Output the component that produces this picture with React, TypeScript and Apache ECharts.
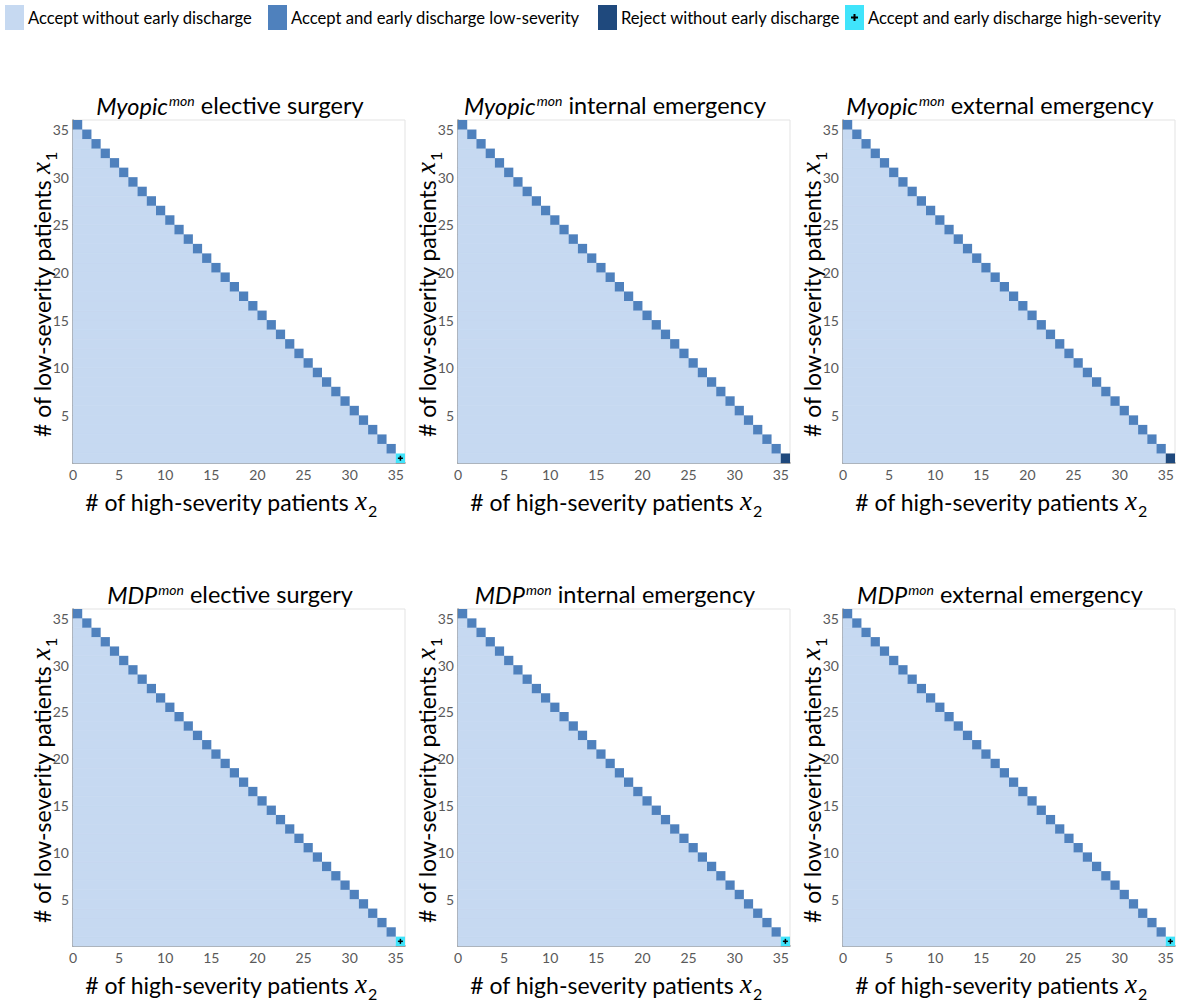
import { useEffect, useRef } from "react";
import * as echarts from "echarts";

const legendLabels = [
  "Accept without early discharge",
  "Accept and early discharge low-severity",
  "Reject without early discharge",
  "Accept and early discharge high-severity",
];
const decisionColors = ["#c6d9f1", "#4f81bd", "#1f497d", "#40e4fb"];

// rows: number of low-severity patients x1
const lowSeverityRows = [0, 1, 2, 3, 4, 5, 6, 7, 8, 9, 10, 11, 12, 13, 14, 15, 16, 17, 18, 19, 20, 21, 22, 23, 24, 25, 26, 27, 28, 29, 30, 31, 32, 33, 34, 35];
// for each row: number of high-severity patients x2 at which the ward is full
const fullWardX2 = [35, 34, 33, 32, 31, 30, 29, 28, 27, 26, 25, 24, 23, 22, 21, 20, 19, 18, 17, 16, 15, 14, 13, 12, 11, 10, 9, 8, 7, 6, 5, 4, 3, 2, 1, 0];

const panelModels = ["Myopic", "Myopic", "Myopic", "MDP", "MDP", "MDP"];
const panelSettings = ["elective surgery", "internal emergency", "external emergency", "elective surgery", "internal emergency", "external emergency"];
// decision taken in the full-ward corner cell (x2 = 35, x1 = 0)
const cornerDecisions = [3, 2, 2, 3, 3, 3];

const xTickLabels = [0, 5, 10, 15, 20, 25, 30, 35];
const yTickLabels = [5, 10, 15, 20, 25, 30, 35];
const axisMin = 0;
const axisMax = 36;
const tickStep = 5;

const FONT = "Lato";
const MATH = "Liberation Serif";

const gridLefts = [73, 458, 843];
const gridTops = [120, 609];
const gridWidth = 332;
const gridHeights = [343, 342];
const legendLefts = [5, 268, 598, 845];

function rectFor(api: any, x0: number, x1: number, y: number) {
  const a = api.coord([x0, y + 1]);
  const b = api.coord([x1, y]);
  return { x: a[0], y: a[1], width: b[0] - a[0], height: b[1] - a[1] };
}

function rowRender(color: string) {
  return (_p: any, api: any) => {
    const s = rectFor(api, api.value(0), api.value(1), api.value(2));
    return { type: "rect", shape: s, style: { fill: color, stroke: color, lineWidth: 0.8 } };
  };
}

function cellRender(color: string, plus: boolean) {
  return (_p: any, api: any) => {
    const x = api.value(0);
    const y = api.value(1);
    const s = rectFor(api, x, x + 1, y);
    const rect = { type: "rect", shape: s, style: { fill: color } };
    if (!plus) return rect;
    const cx = s.x + s.width / 2;
    const cy = s.y + s.height / 2;
    return {
      type: "group",
      children: [
        rect,
        { type: "line", shape: { x1: cx - 2.5, y1: cy, x2: cx + 2.5, y2: cy }, style: { stroke: "#000", lineWidth: 1.5 } },
        { type: "line", shape: { x1: cx, y1: cy - 2.5, x2: cx, y2: cy + 2.5 }, style: { stroke: "#000", lineWidth: 1.5 } },
      ],
    };
  };
}

const plusSvg =
  "<svg xmlns='http://www.w3.org/2000/svg' width='19' height='25'><rect width='19' height='25' fill='#40e4fb'/><path d='M6 12.5h7M9.5 9v7' stroke='#000' stroke-width='2'/></svg>";
const plusIcon = "image://data:image/svg+xml;utf8," + encodeURIComponent(plusSvg);

function buildOption() {
  const grid: any[] = [];
  const xAxis: any[] = [];
  const yAxis: any[] = [];
  const series: any[] = [];
  const title: any[] = [];

  panelModels.forEach((model, i) => {
    const col = i % 3;
    const row = Math.floor(i / 3);
    const left = gridLefts[col];
    const top = gridTops[row];
    const height = gridHeights[row];
    grid.push({ left, top, width: gridWidth, height, show: true, borderColor: "#e3e3e3", borderWidth: 1, backgroundColor: "#fff" });

    title.push({
      text: `{it|${model}}{sup|mon}{rg| ${panelSettings[i]}}`,
      left: left + gridWidth / 2 - 14,
      top: top - 32,
      textAlign: "center",
      textStyle: {
        fontWeight: "normal",
        rich: {
          it: { fontFamily: FONT, fontStyle: "italic", fontWeight: "normal", fontSize: 23.5, color: "#000", verticalAlign: "bottom" },
          sup: { fontFamily: FONT, fontStyle: "italic", fontWeight: "normal", fontSize: 14, color: "#000", verticalAlign: "bottom", padding: [0, 0, 10, 1] },
          rg: { fontFamily: FONT, fontWeight: "normal", fontSize: 23.5, color: "#000", verticalAlign: "bottom" },
        },
      },
    });

    const nameRich = {
      t: { fontFamily: FONT, fontSize: 23, color: "#000", verticalAlign: "bottom", padding: [0, 0, 5, 0] },
      m: { fontFamily: MATH, fontStyle: "italic", fontSize: 27, color: "#000", verticalAlign: "bottom", padding: [0, 0, 4, 0] },
      s: { fontFamily: FONT, fontSize: 16, color: "#000", verticalAlign: "bottom", padding: [0, 0, 0, 1] },
    };

    xAxis.push({
      type: "value",
      gridIndex: i,
      min: axisMin,
      max: axisMax,
      interval: tickStep,
      axisLine: { show: true, onZero: false, lineStyle: { color: "#808080", width: 1.5 } },
      axisTick: { show: false },
      splitLine: { show: false },
      axisLabel: {
        color: "#595959",
        fontSize: 14,
        fontFamily: FONT,
        margin: 4,
        formatter: (v: number) => (xTickLabels.includes(v) ? String(v) : ""),
      },
      name: "{t|# of high-severity patients }{m|x}{s|2}",
      nameLocation: "middle",
      nameGap: 24,
      nameMoveOverlap: false,
      nameTextStyle: { rich: nameRich, padding: [0, 16, 0, 0] },
    });
    yAxis.push({
      type: "value",
      gridIndex: i,
      min: axisMin,
      max: axisMax,
      interval: tickStep,
      axisLine: { show: true, onZero: false, lineStyle: { color: "#808080", width: 1.5 } },
      axisTick: { show: false },
      splitLine: { show: false },
      axisLabel: {
        color: "#595959",
        fontSize: 14,
        fontFamily: FONT,
        margin: 4,
        formatter: (v: number) => (yTickLabels.includes(v) ? String(v) : ""),
      },
      name: "{t|# of low-severity patients }{m|x}{s|1}",
      nameLocation: "middle",
      nameRotate: 90,
      nameGap: 15,
      nameMoveOverlap: false,
      nameTextStyle: { rich: nameRich, padding: [0, 6, 0, 0] },
    });

    const rowData: number[][] = [];
    const diagData: number[][] = [];
    const cornerData: number[][] = [];
    lowSeverityRows.forEach((x1, r) => {
      const x2 = fullWardX2[r];
      if (x2 > 0) rowData.push([0, x2, x1]);
      if (x2 === axisMax - 1 && x1 === 0) cornerData.push([x2, x1]);
      else diagData.push([x2, x1]);
    });

    series.push({
      type: "custom",
      name: legendLabels[0],
      xAxisIndex: i,
      yAxisIndex: i,
      itemStyle: { color: decisionColors[0] },
      encode: { x: [0, 1], y: 2 },
      renderItem: rowRender(decisionColors[0]),
      data: rowData,
      silent: true,
    });
    series.push({
      type: "custom",
      name: legendLabels[1],
      xAxisIndex: i,
      yAxisIndex: i,
      itemStyle: { color: decisionColors[1] },
      encode: { x: 0, y: 1 },
      renderItem: cellRender(decisionColors[1], false),
      data: diagData,
      silent: true,
    });
    const cd = cornerDecisions[i];
    series.push({
      type: "custom",
      name: legendLabels[cd],
      xAxisIndex: i,
      yAxisIndex: i,
      itemStyle: { color: decisionColors[cd] },
      encode: { x: 0, y: 1 },
      renderItem: cellRender(decisionColors[cd], cd === 3),
      data: cornerData,
      silent: true,
    });
  });

  const legend = legendLabels.map((name, i) => ({
    left: legendLefts[i],
    top: 5,
    padding: 0,
    itemWidth: 19,
    itemHeight: 25,
    selectedMode: false,
    textStyle: { fontFamily: FONT, fontSize: 16.6, color: "#000", padding: [0, 0, 0, -1] },
    data: [{ name, icon: i === 3 ? plusIcon : "rect" }],
  }));

  return {
    animation: false,
    backgroundColor: "#fff",
    title,
    legend,
    grid,
    xAxis,
    yAxis,
    series,
  };
}

export default function App() {
  const ref = useRef<HTMLDivElement>(null);
  useEffect(() => {
    document.body.style.margin = "0";
    if (!ref.current) return;
    const chart = echarts.init(ref.current, undefined, { renderer: "svg" });
    chart.setOption(buildOption() as any);
    return () => chart.dispose();
  }, []);
  return <div ref={ref} style={{ width: 1184, height: 1002 }} />;
}
